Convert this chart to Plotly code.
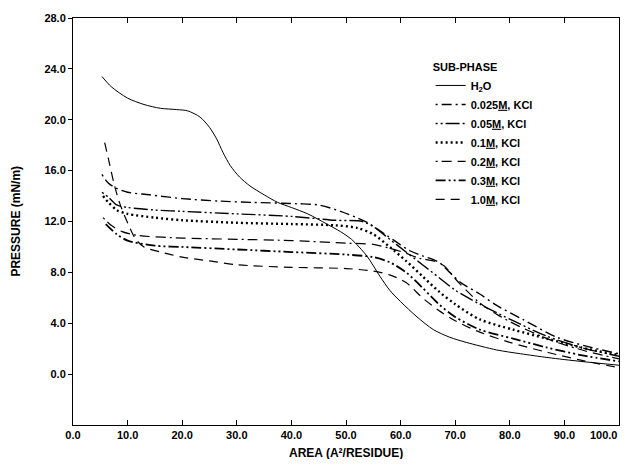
import plotly.graph_objects as go

# ---- data ----
series_names = [
    "H<sub>2</sub>O",
    "0.025<span style=\"text-decoration:underline\">M</span>, KCl",
    "0.05<span style=\"text-decoration:underline\">M</span>, KCl",
    "0.1<span style=\"text-decoration:underline\">M</span>, KCl",
    "0.2<span style=\"text-decoration:underline\">M</span>, KCl",
    "0.3<span style=\"text-decoration:underline\">M</span>, KCl",
    "1.0<span style=\"text-decoration:underline\">M</span>, KCl",
]

h2o_x = [5.3, 7, 10, 13, 16, 19, 21, 23.3, 25, 26.3, 27.5, 28.8, 30.5, 32.4, 35, 37.5, 40, 43, 46.5, 49, 51, 53.8, 56.2, 58, 60, 63, 66, 69, 72, 77.6, 82, 87, 93, 100]
h2o_y = [23.4, 22.6, 21.7, 21.2, 20.9, 20.8, 20.7, 20.2, 19.4, 18.5, 17.4, 16.4, 15.5, 14.8, 14.1, 13.5, 13.1, 12.6, 11.8, 11.2, 10.6, 9.3, 7.7, 6.6, 5.7, 4.5, 3.5, 2.9, 2.5, 1.9, 1.6, 1.3, 1.0, 0.7]

k0025_x = [5.3, 6.5, 8, 10, 14, 20, 27, 33, 41, 45, 49, 52, 54, 57.5, 61.7, 64, 67, 69, 71, 74.5, 77.6, 82.4, 88.6, 94, 100]
k0025_y = [15.7, 15.0, 14.6, 14.3, 14.1, 13.8, 13.6, 13.5, 13.4, 13.3, 12.8, 12.3, 11.9, 10.9, 9.7, 9.3, 8.8, 8.0, 7.2, 6.3, 5.4, 4.3, 2.9, 2.2, 1.6]

k005_x = [5.3, 6.5, 8, 10, 15, 20, 30, 40, 48, 53, 55, 58, 61, 64, 67, 70, 74.5, 80.6, 86.7, 93, 100]
k005_y = [14.3, 13.9, 13.3, 13.1, 12.9, 12.8, 12.6, 12.4, 12.1, 12.0, 11.6, 10.6, 9.6, 8.6, 7.6, 6.6, 5.5, 4.2, 3.0, 2.1, 1.4]

k01_x = [5.5, 6.5, 8, 10, 15, 20, 30, 40, 48, 52, 55, 58, 61, 64, 67, 70, 74.5, 80.6, 86.7, 93, 100]
k01_y = [14.0, 13.5, 12.9, 12.6, 12.3, 12.1, 11.9, 11.8, 11.7, 11.5, 11.0, 10.0, 8.9, 7.7, 6.5, 5.5, 4.3, 3.5, 2.8, 2.1, 1.5]

k02_x = [5.5, 7, 9, 12, 20, 30, 40, 50, 55, 58, 61, 63.5, 66, 68, 70, 72, 74.5, 78, 82, 88, 94, 100]
k02_y = [12.3, 11.7, 11.2, 10.9, 10.7, 10.6, 10.5, 10.3, 10.2, 9.9, 9.5, 9.1, 8.9, 8.5, 7.5, 6.6, 5.6, 4.6, 3.7, 2.6, 1.8, 1.2]

k03_x = [6, 8, 10, 15, 20, 30, 40, 50, 55, 58, 61, 64, 67, 70, 74.5, 80.6, 86.7, 93, 100]
k03_y = [11.8, 11.0, 10.5, 10.1, 10.0, 9.8, 9.6, 9.4, 9.2, 8.8, 8.0, 6.8, 5.5, 4.5, 3.5, 2.8, 2.1, 1.5, 1.0]

k10_x = [5.8, 6.5, 7.5, 8.5, 10, 11.5, 13, 16, 20, 25, 30, 40, 50, 55, 58, 61, 64, 67, 70, 74.5, 80, 87, 93, 100]
k10_y = [18.2, 16.9, 15.0, 13.5, 11.9, 10.6, 10.0, 9.6, 9.2, 8.9, 8.6, 8.4, 8.3, 8.1, 7.8, 7.2, 6.0, 5.0, 4.2, 3.3, 2.5, 1.7, 1.1, 0.5]

x_ticks = [0, 10, 20, 30, 40, 50, 60, 70, 80, 90, 100]
x_tick_labels = ["0.0", "10.0", "20.0", "30.0", "40.0", "50.0", "60.0", "70.0", "80.0", "90.0", "100.0"]
y_ticks = [0, 4, 8, 12, 16, 20, 24, 28]
y_tick_labels = ["0.0", "4.0", "8.0", "12.0", "16.0", "20.0", "24.0", "28.0"]

# ---- styles ----
xs = [h2o_x, k0025_x, k005_x, k01_x, k02_x, k03_x, k10_x]
ys = [h2o_y, k0025_y, k005_y, k01_y, k02_y, k03_y, k10_y]
dashes = [
    "solid",
    "2px,4px,10px,4px",
    "2px,3px,2px,3px,14px,3px",
    "2px,3px",
    "2px,4px,10px,6px,10px,4px",
    "10px,3px,2px,3px,2px,3px",
    "9px,6px",
]
widths = [1.0, 1.4, 1.4, 2.4, 1.2, 1.8, 1.2]

FONT = "Liberation Sans, Arial, sans-serif"

# pad the last label so it sits inside the page like in the reference
x_tick_text = x_tick_labels[:-1] + [x_tick_labels[-1] + "\u00a0" * 10]

fig = go.Figure()
for name, x, y, d, w in zip(series_names, xs, ys, dashes, widths):
    fig.add_trace(go.Scatter(
        x=x, y=y, mode="lines", name=name,
        line=dict(color="black", width=w, dash=d, shape="spline", smoothing=0.8),
    ))

fig.update_layout(
    width=624, height=451,
    margin=dict(l=65, r=13, t=10, b=34),
    paper_bgcolor="white", plot_bgcolor="white",
    font=dict(family=FONT, size=11, color="black", weight="bold"),
    showlegend=True,
    legend=dict(
        x=0.655, y=0.905, xanchor="left", yanchor="top",
        bgcolor="rgba(0,0,0,0)", borderwidth=0,
        title=dict(text="SUB-PHASE", font=dict(family=FONT, size=11, weight="bold")),
        font=dict(family=FONT, size=11, weight="bold"),
        tracegroupgap=0,
    ),
    xaxis=dict(
        range=[0, 100], tickvals=x_ticks, ticktext=x_tick_text,
        showgrid=False, zeroline=False, showline=True, linecolor="black", linewidth=1,
        mirror="ticks", ticks="inside", ticklen=5, tickcolor="black",
        automargin=False, ticklabeloverflow="allow",
    ),
    yaxis=dict(
        range=[-4, 28], tickvals=y_ticks, ticktext=y_tick_labels,
        showgrid=False, zeroline=False, showline=True, linecolor="black", linewidth=1,
        mirror=True, ticks="outside", ticklen=4, tickcolor="black",
        automargin=False,
    ),
    annotations=[
        dict(text="AREA (A²/RESIDUE)", xref="paper", yref="paper", x=0.5, y=-0.069,
             xanchor="center", yanchor="middle", showarrow=False,
             font=dict(family=FONT, size=12, weight="bold")),
        dict(text="PRESSURE (mN/m)", xref="paper", yref="paper", x=-0.106, y=0.5,
             xanchor="center", yanchor="middle", showarrow=False, textangle=-90,
             font=dict(family=FONT, size=12, weight="bold")),
    ],
)

fig.write_html("out.html")
